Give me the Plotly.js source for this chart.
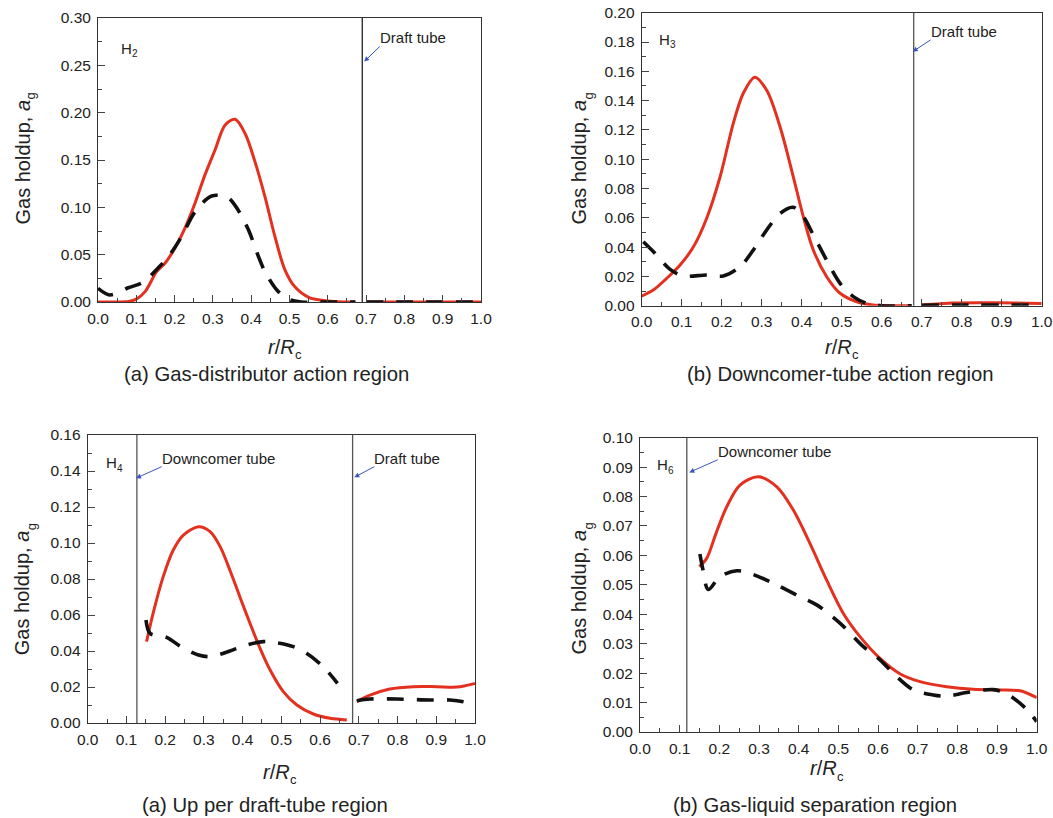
<!DOCTYPE html>
<html>
<head>
<meta charset="utf-8">
<script src="https://cdn.plot.ly/plotly-3.0.1.min.js"></script>
<style>html,body{margin:0;padding:0;background:#fff;}#chart{width:1053px;height:818px;}</style>
</head>
<body>
<div id="chart"></div>
<script>
// ---------- data ----------
// Panel (a) Gas-distributor action region, H2
const p1RedR   = [0, 0.05, 0.08, 0.1, 0.123, 0.153, 0.175, 0.201, 0.227, 0.253, 0.279, 0.305, 0.332, 0.358, 0.384, 0.41, 0.436, 0.462, 0.488, 0.514, 0.55, 0.6, 0.64, 0.672, null, 0.7, 0.8, 0.9, 1.0];
const p1Red    = [0, 0, 0.0005, 0.003, 0.011, 0.032, 0.041, 0.057, 0.078, 0.104, 0.134, 0.16, 0.187, 0.193, 0.178, 0.148, 0.111, 0.069, 0.034, 0.016, 0.005, 0.001, 0, 0, null, 0, 0, 0, 0];
const p1BlackR = [0, 0.031, 0.079, 0.118, 0.157, 0.184, 0.218, 0.253, 0.297, 0.34, 0.366, 0.393, 0.419, 0.436, 0.467, 0.497, 0.53, 0.6, 0.672, null, 0.7, 0.8, 0.9, 1.0];
const p1Black  = [0.0145, 0.0074, 0.015, 0.021, 0.036, 0.048, 0.069, 0.095, 0.112, 0.11, 0.097, 0.076, 0.048, 0.032, 0.0127, 0.003, 0, 0, 0, null, 0, 0, 0, 0];

// Panel (b) Downcomer-tube action region, H3
const p2RedR   = [0, 0.029, 0.0625, 0.096, 0.129, 0.1625, 0.196, 0.229, 0.254, 0.283, 0.3125, 0.346, 0.379, 0.404, 0.429, 0.4625, 0.496, 0.5375, 0.579, 0.62, 0.675, null, 0.7, 0.78, 0.85, 0.93, 1.0];
const p2Red    = [0.0066, 0.0107, 0.0187, 0.0278, 0.040, 0.0597, 0.088, 0.1245, 0.145, 0.156, 0.147, 0.122, 0.088, 0.0608, 0.038, 0.0198, 0.0085, 0.0027, 0.0005, 0, 0, null, 0.0005, 0.0018, 0.002, 0.0019, 0.0015];
const p2BlackR = [0.004, 0.029, 0.071, 0.104, 0.1625, 0.204, 0.246, 0.279, 0.3125, 0.346, 0.379, 0.404, 0.429, 0.4625, 0.496, 0.529, 0.5625, 0.6, 0.675, null, 0.7, 0.8, 0.9, 1.0];
const p2Black  = [0.0437, 0.037, 0.0248, 0.0203, 0.021, 0.0203, 0.0266, 0.038, 0.0517, 0.063, 0.0672, 0.0608, 0.0483, 0.031, 0.0153, 0.0062, 0.0016, 0, 0, null, 0.0003, 0.0005, 0.0005, 0.0003];

// Panel (a) Up per draft-tube region, H4
const p3RedR   = [0.152, 0.169, 0.195, 0.221, 0.247, 0.286, 0.316, 0.342, 0.367, 0.393, 0.419, 0.445, 0.471, 0.505, 0.54, 0.5825, 0.626, 0.669, null, 0.695, 0.729, 0.78, 0.841, 0.901, 0.953, 1.0];
const p3Red    = [0.0452, 0.061, 0.0813, 0.0961, 0.1044, 0.109, 0.1063, 0.098, 0.085, 0.070, 0.0554, 0.0415, 0.0294, 0.0174, 0.010, 0.005, 0.0026, 0.0017, null, 0.0119, 0.0155, 0.0189, 0.0202, 0.0202, 0.020, 0.022];
const p3BlackR = [0.1505, 0.161, 0.204, 0.238, 0.286, 0.316, 0.367, 0.402, 0.453, 0.488, 0.531, 0.565, 0.608, 0.645, null, 0.695, 0.729, 0.798, 0.884, 0.935, 0.97, 0.996];
const p3Black  = [0.0572, 0.0498, 0.0476, 0.0428, 0.0378, 0.0369, 0.040, 0.0428, 0.0452, 0.0446, 0.0424, 0.0387, 0.0313, 0.022, null, 0.0124, 0.0133, 0.0133, 0.0128, 0.0128, 0.0118, 0.010];

// Panel (b) Gas-liquid separation region, H6
const p4RedR   = [0.1496, 0.168, 0.193, 0.2185, 0.252, 0.298, 0.345, 0.3865, 0.4286, 0.4706, 0.5126, 0.5546, 0.605, 0.655, 0.706, 0.773, 0.84, 0.9075, 0.958, 1.0];
const p4Red    = [0.0562, 0.059, 0.068, 0.0765, 0.0839, 0.0867, 0.0833, 0.0754, 0.064, 0.0516, 0.0403, 0.0324, 0.025, 0.0198, 0.0171, 0.0154, 0.0145, 0.0143, 0.014, 0.0117];
const p4BlackR = [0.151, 0.158, 0.172, 0.2017, 0.2437, 0.2815, 0.3446, 0.403, 0.4454, 0.504, 0.563, 0.605, 0.647, 0.689, 0.739, 0.773, 0.8235, 0.8907, 0.9244, 0.975, 1.0];
const p4Black  = [0.0605, 0.0556, 0.0484, 0.0528, 0.0548, 0.0537, 0.05, 0.046, 0.0432, 0.037, 0.029, 0.0245, 0.0188, 0.0143, 0.0126, 0.0122, 0.0134, 0.0144, 0.013, 0.0077, 0.0035];

// tube wall positions (r/Rc)
const p1Tubes = [0.69];
const p2Tubes = [0.68];
const p3Tubes = [0.127, 0.684];
const p4Tubes = [0.118];

// axis ranges / ticks
const yMax   = [0.30, 0.20, 0.16, 0.10];
const yDtick = [0.05, 0.02, 0.02, 0.01];
const yMinor = [0.025, 0.01, 0.01, 0.005];

const captions = ['(a) Gas-distributor action region', '(b) Downcomer-tube action region', '(a) Up per draft-tube region', '(b) Gas-liquid separation region'];
const heightNames = ['2', '3', '4', '6'];

// ---------- build ----------
const RED = '#e3301f';
const FONT = '"Liberation Sans", Arial, Helvetica, sans-serif';
const W = 1053, H = 818;
const fx = px => px / W;
const fy = py => 1 - py / H;

// plot-area pixel boxes [left, right, top, bottom]
const boxes = [
  [98, 481, 18, 302],
  [641.7, 1041.7, 12.7, 305.7],
  [87.7, 475, 435, 723],
  [640, 1036.7, 437.7, 732]
];

const panels = [
  {rr: p1RedR, r: p1Red, br: p1BlackR, b: p1Black, tubes: p1Tubes},
  {rr: p2RedR, r: p2Red, br: p2BlackR, b: p2Black, tubes: p2Tubes},
  {rr: p3RedR, r: p3Red, br: p3BlackR, b: p3Black, tubes: p3Tubes},
  {rr: p4RedR, r: p4Red, br: p4BlackR, b: p4Black, tubes: p4Tubes}
];

const traces = [];
const layout = {
  width: W, height: H,
  margin: {l: 0, r: 0, t: 0, b: 0},
  paper_bgcolor: '#fff', plot_bgcolor: '#fff',
  showlegend: false,
  font: {family: FONT, size: 15, color: '#222'},
  shapes: [], annotations: []
};
const tight = {borderpad: 0, borderwidth: 0, showarrow: false};

panels.forEach((p, i) => {
  const n = i + 1;
  const xa = n === 1 ? 'x' : 'x' + n;
  const ya = n === 1 ? 'y' : 'y' + n;
  traces.push({x: p.rr, y: p.r, xaxis: xa, yaxis: ya, mode: 'lines', connectgaps: false,
    line: {color: RED, width: 3, shape: 'spline', smoothing: 0.9}, hoverinfo: 'skip'});
  traces.push({x: p.br, y: p.b, xaxis: xa, yaxis: ya, mode: 'lines', connectgaps: false,
    line: {color: '#111', width: 3.6, dash: '17px,13px', shape: 'spline', smoothing: 0.9}, hoverinfo: 'skip'});

  const b = boxes[i];
  const axCommon = {
    showgrid: false, zeroline: false, showline: true, linecolor: '#333', linewidth: 1,
    mirror: true, ticks: 'inside', ticklen: 7, tickwidth: 1, tickcolor: '#444',
    tickfont: {family: FONT, size: 15.5, color: '#222'}, fixedrange: true
  };
  layout['xaxis' + (n === 1 ? '' : n)] = Object.assign({}, axCommon, {
    domain: [fx(b[0]), fx(b[1])], anchor: ya, range: [0, 1], dtick: 0.1, tick0: 0, tickformat: '.1f',
    ticklabelstandoff: 2,
    minor: {ticks: 'inside', ticklen: 4, dtick: 0.05, tick0: 0, tickcolor: '#444'}
  });
  layout['yaxis' + (n === 1 ? '' : n)] = Object.assign({}, axCommon, {
    domain: [fy(b[3]), fy(b[2])], anchor: xa, range: [0, yMax[i]], dtick: yDtick[i], tick0: 0, tickformat: '.2f',
    ticklabelstandoff: 3,
    minor: {ticks: 'inside', ticklen: 4, dtick: yMinor[i], tick0: 0, tickcolor: '#444'}
  });

  p.tubes.forEach(t => {
    layout.shapes.push({type: 'line', xref: xa, yref: ya + ' domain', x0: t, x1: t, y0: 0, y1: 1,
      line: {color: i === 0 ? '#222' : '#555', width: 1.3}});
  });
});

// x-axis titles: main text ends at the junction, subscript starts there
const xTitleJ = [[295, 347], [851.7, 347], [290, 771.5], [836.7, 768]];
xTitleJ.forEach(j => {
  layout.annotations.push(Object.assign({xref: 'paper', yref: 'paper', x: fx(j[0]), y: fy(j[1]),
    text: '<i>r</i>/<i>R</i>', font: {size: 20, color: '#222'}, xanchor: 'right', yanchor: 'middle'}, tight));
  layout.annotations.push(Object.assign({xref: 'paper', yref: 'paper', x: fx(j[0]), y: fy(j[1]), yshift: -8,
    text: 'c', font: {size: 13, color: '#222'}, xanchor: 'left', yanchor: 'middle'}, tight));
});
// y-axis titles (rotated): [main centre x, junction y, sub centre x]
const yTitleJ = [[22, 100, 30], [578, 100, 588], [21.7, 530, 31.7], [578, 530, 588]];
yTitleJ.forEach(j => {
  layout.annotations.push(Object.assign({xref: 'paper', yref: 'paper', x: fx(j[0]), y: fy(j[1]),
    text: 'Gas holdup, <i>a</i>', textangle: -90, font: {size: 20, color: '#222'}, xanchor: 'center', yanchor: 'top'}, tight));
  layout.annotations.push(Object.assign({xref: 'paper', yref: 'paper', x: fx(j[2]), y: fy(j[1]),
    text: 'g', textangle: -90, font: {size: 13, color: '#222'}, xanchor: 'center', yanchor: 'bottom'}, tight));
});
// captions
const capPos = [[266, 374], [840, 374], [265, 805], [815, 805]];
capPos.forEach((c, i) => {
  layout.annotations.push({xref: 'paper', yref: 'paper', x: fx(c[0]), y: fy(c[1]),
    text: captions[i], showarrow: false, font: {size: 20.3, color: '#222'}, xanchor: 'center', yanchor: 'middle'});
});

// in-plot height labels: [junction x (data), centre y (data), subscript shift px]
const hPos = [[0.088, 0.268, -5], [0.0708, 0.1814, -5], [0.0749, 0.145, -6], [0.0713, 0.091, -6]];
hPos.forEach((h, i) => {
  const n = i + 1;
  const xr = n === 1 ? 'x' : 'x' + n, yr = n === 1 ? 'y' : 'y' + n;
  layout.annotations.push(Object.assign({xref: xr, yref: yr, x: h[0], y: h[1], text: 'H',
    xanchor: 'right', yanchor: 'middle', font: {size: 15, color: '#222'}}, tight));
  layout.annotations.push(Object.assign({xref: xr, yref: yr, x: h[0], y: h[1], yshift: h[2], text: heightNames[i],
    xanchor: 'left', yanchor: 'middle', font: {size: 10, color: '#222'}}, tight));
});

// tube labels with arrows: [panel, text, headX, headY, tailX, tailY]  (text sits above-right of the arrow tail)
const tubeLabels = [
  [1, 'Draft tube', 0.695, 0.254, 0.736, 0.270],
  [2, 'Draft tube', 0.6775, 0.1734, 0.722, 0.1814],
  [3, 'Downcomer tube', 0.1247, 0.136, 0.191, 0.1424],
  [3, 'Draft tube', 0.6884, 0.1365, 0.74, 0.1424],
  [4, 'Downcomer tube', 0.1243, 0.0882, 0.196, 0.0925]
];
tubeLabels.forEach(t => {
  const xa = t[0] === 1 ? 'x' : 'x' + t[0];
  const ya = t[0] === 1 ? 'y' : 'y' + t[0];
  layout.annotations.push({xref: xa, yref: ya, axref: xa, ayref: ya, x: t[2], y: t[3], ax: t[4], ay: t[5],
    text: t[1], xanchor: 'left', yanchor: 'bottom', font: {size: 15, color: '#222'}, borderpad: 0, borderwidth: 0,
    showarrow: true, arrowhead: 2, arrowsize: 1, arrowwidth: 1, arrowcolor: '#3b55c0', standoff: 0, startstandoff: 0});
});

Plotly.newPlot('chart', traces, layout, {staticPlot: true, displayModeBar: false});
</script>
</body>
</html>
